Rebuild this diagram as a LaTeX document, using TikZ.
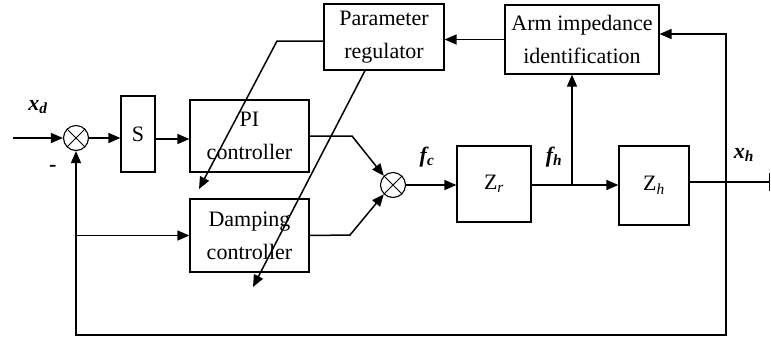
\documentclass[tikz,border=0pt]{standalone}
\usepackage{fontspec}
\setmainfont{Liberation Serif}
\usetikzlibrary{arrows.meta}
\begin{document}
\begin{tikzpicture}[x=1pt,y=-1pt,
  blk/.style={draw, line width=1.2pt, inner sep=0pt, align=center,
    font=\fontsize{22}{33}\selectfont},
  sumc/.style={draw, circle, line width=1.1pt, minimum size=25pt, inner sep=0pt},
  sig/.style={line width=1.5pt, -{Triangle[length=12pt,width=10pt]}},
  wire/.style={line width=1.5pt},
  lbl/.style={font=\fontsize{22}{26}\selectfont\bfseries\itshape, inner sep=0pt}]
\useasboundingbox (0,0) rectangle (771,341);

% blocks
\node[blk, minimum width=34pt, minimum height=76pt] (S) at (138,134) {S};
\node[blk, minimum width=119pt, minimum height=72pt] (PI) at (249.5,136) {PI\\controller};
\node[blk, minimum width=119pt, minimum height=73pt] (D) at (249.5,235.5) {Damping\\controller};
\node[blk, minimum width=74pt, minimum height=76pt] (Zr) at (494,184) {Z\textsubscript{\itshape r}};
\node[blk, minimum width=70pt, minimum height=79pt] (Zh) at (654,185.5) {Z\textsubscript{\itshape h}};
\node[blk, minimum width=154pt, minimum height=69pt] (Arm) at (582,39.5) {Arm impedance\\identification};
\node[blk, minimum width=120pt, minimum height=66pt] (Par) at (384,37) {Parameter\\regulator};

% summing junctions
\node[sumc] (s1) at (76,138) {};
\draw[line width=1pt] (s1.north west) -- (s1.south east) (s1.north east) -- (s1.south west);
\node[sumc] (s2) at (393,185) {};
\draw[line width=1pt] (s2.north west) -- (s2.south east) (s2.north east) -- (s2.south west);

% coordinates
\coordinate (in) at (13,138);
\coordinate (pk) at (352,136);
\coordinate (dk) at (350,235);
\coordinate (jf) at (572,185);
\coordinate (fb) at (726,182);
\coordinate (fbb) at (726,335);
\coordinate (out) at (770,182);
\coordinate (pb) at (277,41);
\coordinate (t1) at (199,189);
\coordinate (t2) at (253,287);

% forward path
\draw[sig] (in) -- (s1.west);
\draw[sig] (s1.east) -- (S.west |- s1.east);
\draw[sig] (S.east |- 0,139) -- (PI.west |- 0,139);
\draw[sig] (PI.east) -- (pk) -- (s2.north west);
\draw[sig] (D.east) -- (dk) -- (s2.south west);
\draw[sig] (s2.east) -- (s2.east -| Zr.west);
\draw[sig] (Zr.east |- s2.east) -- (Zh.west |- s2.east);
\draw[sig] (jf) -- (jf |- Arm.south);
\draw[wire, -{Bar[width=18pt]}] (Zh.east |- fb) -- (out);

% feedback paths
\draw[sig] (fb) |- ([yshift=5.5pt]Arm.east);
\draw[sig] (fb) -- (fbb) -| (s1.south);
\draw[sig] (s1 |- D.west) -- (D.west);
\draw[sig] (Arm.west) -- (Arm.west -| Par.east);

% parameter adjustment arrows
\draw[sig] ([yshift=-4pt]Par.west) -- (pb) -- (t1);
\draw[sig] ([xshift=-19pt]Par.south) -- (t2);

% labels
\node[lbl] (lxd) at (38,107) {x\textsubscript{d}};
\node[lbl] (lm) at (53,168) {-};
\node[lbl] (lfc) at (427,157) {f\textsubscript{c}};
\node[lbl] (lfh) at (554,157) {f\textsubscript{h}};
\node[lbl] (lxh) at (744,155) {x\textsubscript{h}};
\end{tikzpicture}
\end{document}
